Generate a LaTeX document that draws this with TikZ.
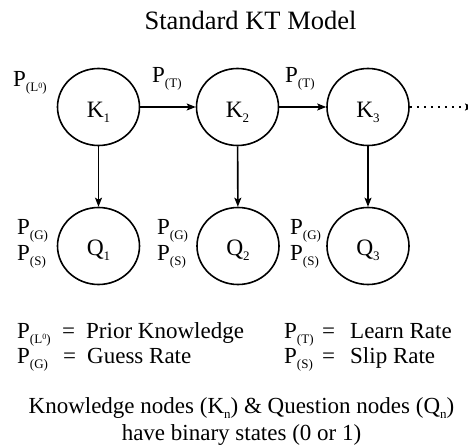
\documentclass[tikz,border=0pt]{standalone}
\usepackage{fontspec}
\setmainfont{Liberation Serif}
\usetikzlibrary{arrows.meta,shapes.geometric}
% small lowered subscript and tiny raised superscript
\newcommand{\ktsub}[1]{\raisebox{-5pt}{\fontsize{13}{13}\selectfont #1}}
\newcommand{\ktsup}[1]{\raisebox{3.5pt}{\fontsize{8}{8}\selectfont #1}}
\tikzset{
  state/.style={draw, line width=1.6pt, ellipse, minimum width=82pt, minimum height=77pt,
    inner sep=0pt, text depth=0pt, font=\fontsize{23.5}{23.5}\selectfont},
  kstate/.style={state, text height=21pt},
  qstate/.style={state, text height=18pt},
  plabel/.style={inner sep=0pt, anchor=base west, font=\fontsize{23}{23}\selectfont},
  legend/.style={inner sep=0pt, anchor=base west, font=\fontsize{23}{23}\selectfont},
  note/.style={inner sep=0pt, anchor=base, font=\fontsize{23}{23}\selectfont},
  link/.style={-{Stealth[length=9pt,width=7pt,inset=2pt]}, line width=1.6pt},
  more/.style={-{Stealth[length=9pt,width=7pt,inset=2pt]}, line width=2pt,
    dash pattern=on 2pt off 5pt}
}
\begin{document}
\begin{tikzpicture}[x=1pt,y=-1pt]
\useasboundingbox (0,0) rectangle (468,446);

% title
\node[note, font=\fontsize{26.5}{26.5}\selectfont] (title) at (250.5,30) {Standard KT Model};

% knowledge nodes
\node[kstate] (K1) at (98.5,107) {K\ktsub{1}};
\node[kstate] (K2) at (237.5,107) {K\ktsub{2}};
\node[kstate] (K3) at (368,107) {K\ktsub{3}};

% question nodes
\node[qstate] (Q1) at (98.5,246) {Q\ktsub{1}};
\node[qstate] (Q2) at (238,246) {Q\ktsub{2}};
\node[qstate] (Q3) at (368,246) {Q\ktsub{3}};

% connectors
\draw[link] (K1) -- (K2);
\draw[link] (K2) -- (K3);
\draw[link] (K1) -- (Q1);
\draw[link] (K2) -- (Q2);
\draw[link] (K3) -- (Q3);
\coordinate (cont) at (474,107);
\draw[more] (K3) -- (cont);

% parameter labels
\node[plabel] (pl0) at (13,87) {P\ktsub{(L\ktsup{0})}};
\node[plabel] (pt1) at (152,83) {P\ktsub{(T)}};
\node[plabel] (pt2) at (285,83) {P\ktsub{(T)}};
\node[plabel] (pg1) at (17,235) {P\ktsub{(G)}};
\node[plabel] (ps1) at (17,261) {P\ktsub{(S)}};
\node[plabel] (pg2) at (157,235) {P\ktsub{(G)}};
\node[plabel] (ps2) at (157,261) {P\ktsub{(S)}};
\node[plabel] (pg3) at (290,235) {P\ktsub{(G)}};
\node[plabel] (ps3) at (290,261) {P\ktsub{(S)}};

% legend
\node[legend] (lp1) at (17,338) {P\ktsub{(L\ktsup{0})}};
\node[legend] (le1) at (62,338) {=};
\node[legend] (ld1) at (86,338) {Prior Knowledge};
\node[legend] (lp2) at (17,363) {P\ktsub{(G)}};
\node[legend] (le2) at (63,363) {=};
\node[legend] (ld2) at (87,363) {Guess Rate};
\node[legend] (lp3) at (284,338) {P\ktsub{(T)}};
\node[legend] (le3) at (322,338) {=};
\node[legend] (ld3) at (350,338) {Learn Rate};
\node[legend] (lp4) at (284,363) {P\ktsub{(S)}};
\node[legend] (le4) at (322,363) {=};
\node[legend] (ld4) at (350,363) {Slip Rate};

% note on states
\node[note] (n1) at (241.5,413) {Knowledge nodes (K\ktsub{n}) \& Question nodes (Q\ktsub{n})};
\node[note] (n2) at (241.5,440) {have binary states (0 or 1)};
\end{tikzpicture}
\end{document}
